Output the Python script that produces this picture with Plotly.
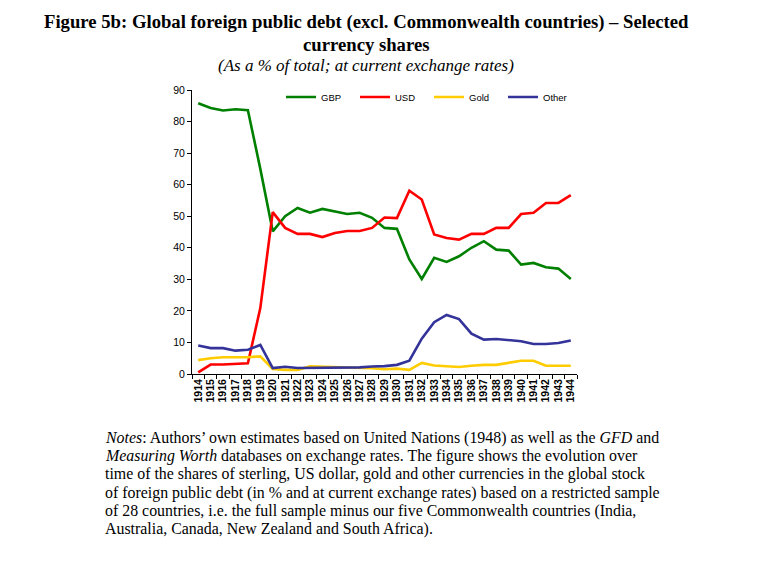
import plotly.graph_objects as go

years = [str(y) for y in range(1914, 1945)]

gbp = [85.8, 84.3, 83.5, 83.9, 83.6, 65.0, 45.2, 50.0, 52.6, 51.1, 52.3, 51.4, 50.7, 51.1, 49.5, 46.3,
       46.0, 36.3, 30.1, 36.8, 35.5, 37.3, 40.0, 42.1, 39.4, 39.1, 34.7, 35.2, 33.8, 33.4, 30.1]
usd = [0.5, 3.0, 3.0, 3.3, 3.4, 20.9, 51.3, 46.3, 44.4, 44.4, 43.4, 44.7, 45.3, 45.3, 46.3, 49.6,
       49.4, 58.1, 55.3, 44.2, 43.1, 42.6, 44.4, 44.4, 46.3, 46.3, 50.7, 51.1, 54.2, 54.2, 56.7]
gold = [4.4, 5.0, 5.3, 5.3, 5.3, 5.6, 1.6, 1.3, 1.3, 2.4, 2.3, 2.2, 2.0, 1.9, 1.8, 1.5,
        1.7, 1.3, 3.5, 2.7, 2.4, 2.2, 2.6, 2.9, 2.9, 3.5, 4.2, 4.2, 2.6, 2.6, 2.6]
other = [9.0, 8.2, 8.2, 7.4, 7.7, 9.2, 1.9, 2.3, 1.9, 1.9, 1.9, 1.9, 1.9, 2.1, 2.4, 2.5,
         2.9, 4.2, 11.2, 16.4, 18.7, 17.4, 12.8, 10.9, 11.1, 10.7, 10.4, 9.5, 9.5, 9.8, 10.6]

series = [("GBP", gbp, "#008000"), ("USD", usd, "#FF0000"),
          ("Gold", gold, "#FFCC00"), ("Other", other, "#333399")]

notes = [
    "<i>Notes</i>: Authors’ own estimates based on United Nations (1948) as well as the <i>GFD</i> and",
    "<i>Measuring Worth</i> databases on exchange rates. The figure shows the evolution over",
    "time of the shares of sterling, US dollar, gold and other currencies in the global stock",
    "of foreign public debt (in % and at current exchange rates) based on a restricted sample",
    "of 28 countries, i.e. the full sample minus our five Commonwealth countries (India,",
    "Australia, Canada, New Zealand and South Africa).",
]

fig = go.Figure()
for name, vals, col in series:
    fig.add_trace(go.Scatter(x=years, y=vals, mode="lines", name=name,
                             line=dict(color=col, width=2.6)))

# page body has an 8px margin; work in reference-screen pixels and subtract it
OFF = 8
W, H = 778 - OFF, 582 - OFF
PL, PR, PT, PB = 192, 577, 90, 374  # plot area in screen pixels
L, T = PL - OFF, PT - OFF
R = W - (PR - OFF)
B = H - (PB - OFF)
pw, ph = W - L - R, H - T - B


def px(xs):
    return (xs - PL) / pw


def py(ys):
    return (PB - ys) / ph


annotations = [
    dict(text="<b>Figure 5b: Global foreign public debt (excl. Commonwealth countries) – Selected</b>",
         x=px(366), y=py(22), size=18.7),
    dict(text="<b>currency shares</b>", x=px(366), y=py(44), size=18.7),
    dict(text="<i>(As a % of total; at current exchange rates)</i>", x=px(366), y=py(66), size=17),
]
anns = []
for a in annotations:
    anns.append(dict(text=a["text"], x=a["x"], y=a["y"], xref="paper", yref="paper", showarrow=False,
                     xanchor="center", yanchor="middle",
                     font=dict(family="Liberation Serif", size=a["size"], color="black")))
for i, line in enumerate(notes):
    anns.append(dict(text=line, x=px(103), y=py(438 + i * 18.2), xref="paper", yref="paper",
                     showarrow=False, xanchor="left", yanchor="middle",
                     font=dict(family="Liberation Serif", size=15.9, color="black")))

fig.update_layout(
    width=W, height=H,
    margin=dict(l=L, r=R, t=T, b=B, pad=0),
    paper_bgcolor="white", plot_bgcolor="white",
    font=dict(family="Liberation Sans", color="#222222"),
    annotations=anns,
    legend=dict(orientation="h", x=px(281), y=py(97), xanchor="left", yanchor="middle",
                font=dict(size=9.5, color="black"), bgcolor="rgba(0,0,0,0)",
                itemwidth=30, entrywidth=29, entrywidthmode="pixels", tracegroupgap=0),
    xaxis=dict(type="category", range=[-0.5, 30.5], showline=True, linecolor="black", linewidth=1,
               tickmode="array", tickvals=years, ticktext=["<b>" + y + "</b>" for y in years],
               ticks="outside", ticklen=4, tickcolor="black", tickson="boundaries",
               tickangle=-90, tickfont=dict(size=10.5, color="black", family="Liberation Sans"),
               showgrid=False, zeroline=False),
    yaxis=dict(range=[0, 90], dtick=10, showline=True, linecolor="black", linewidth=1,
               ticks="outside", ticklen=4, tickcolor="black", showgrid=False, zeroline=False,
               tickfont=dict(size=10.5, color="black", family="Liberation Sans")),
)

fig.write_html("out.html")
